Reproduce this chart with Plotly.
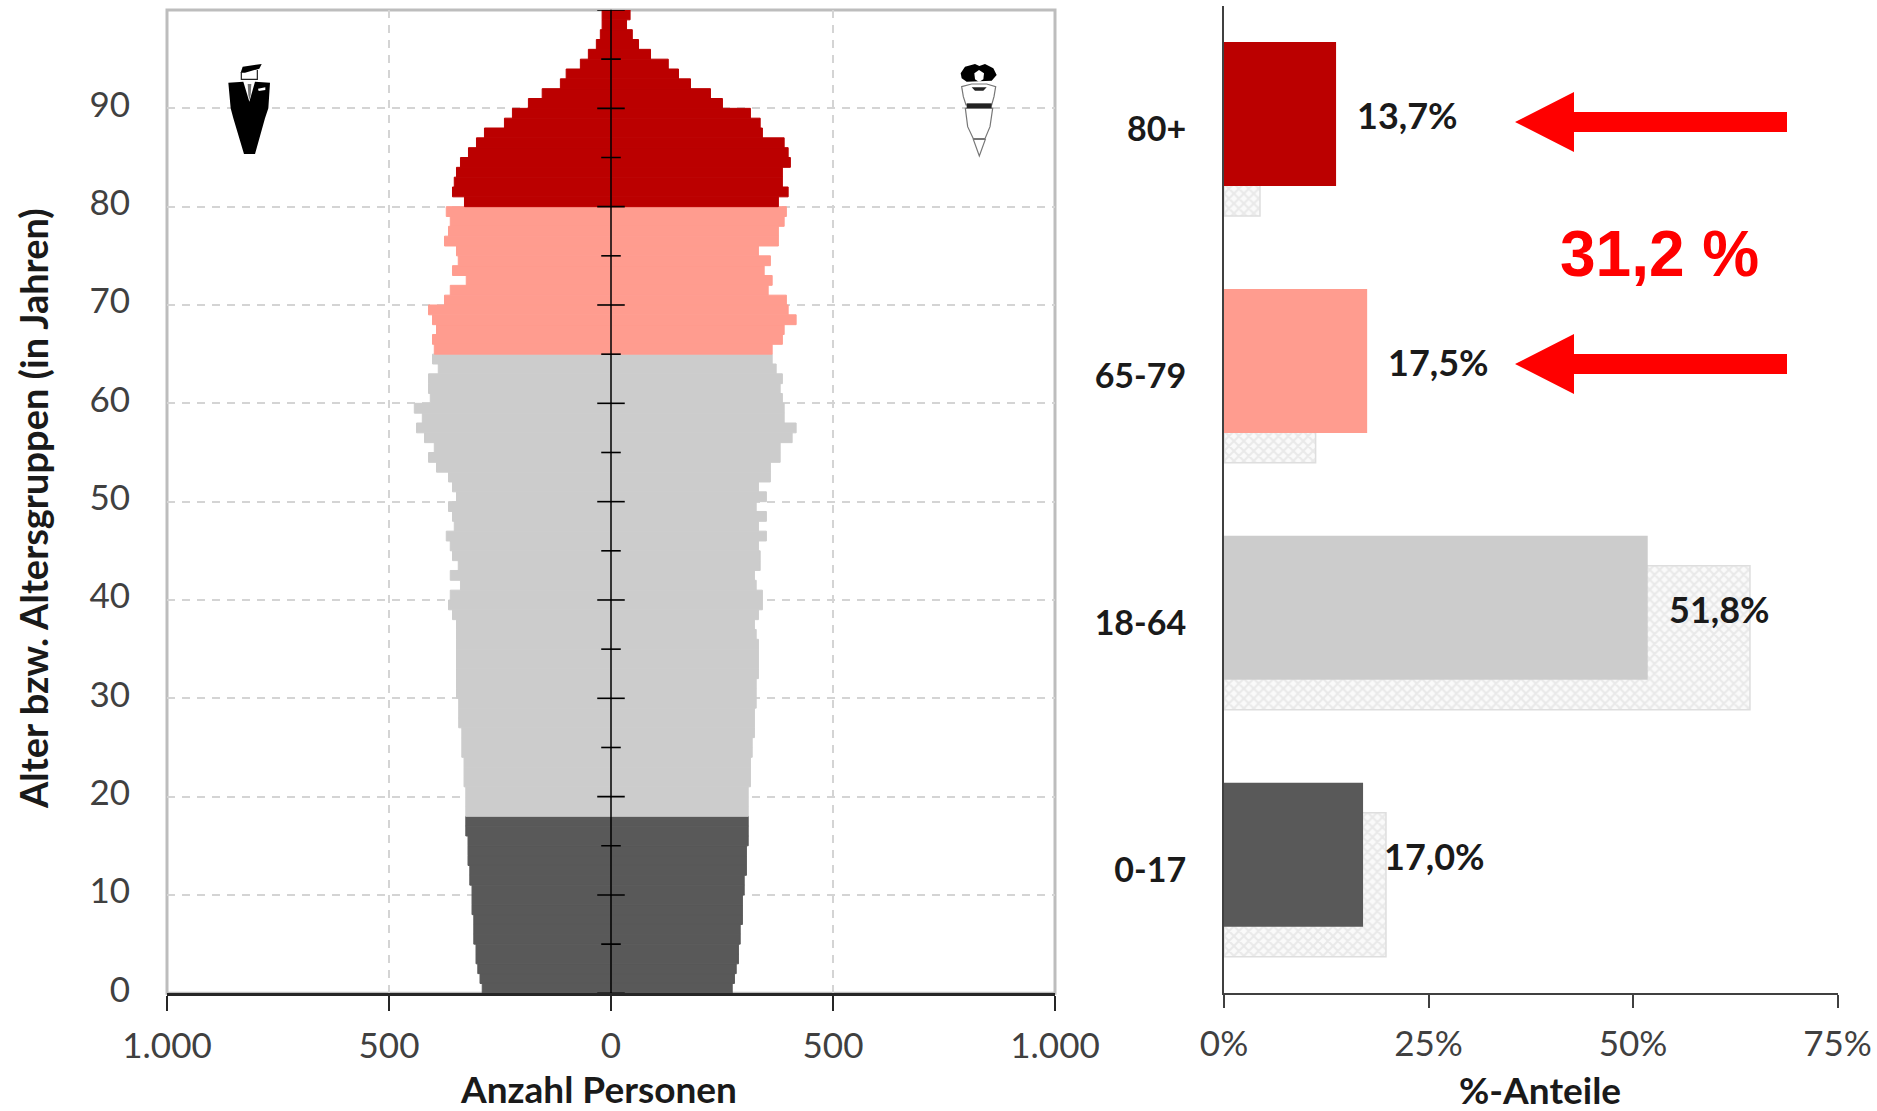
import plotly.graph_objects as go

W, H = 1877, 1111

# Single-year ages 0..99
ages = list(range(100))
men = [290, 295, 300, 304, 304, 309, 309, 309, 313, 313,
       313, 318, 318, 322, 322, 322, 327, 327, 327, 327,
       327, 331, 331, 331, 336, 336, 336, 343, 343, 343,
       348, 348, 348, 348, 348, 348, 348, 348, 357, 366,
       362, 339, 362, 344, 357, 362, 371, 353, 357, 366,
       348, 357, 366, 393, 411, 398, 420, 438, 425, 443,
       407, 411, 411, 389, 402, 398, 402, 393, 402, 411,
       375, 362, 326, 357, 344, 348, 375, 366, 362, 371,
       330, 357, 353, 348, 339, 321, 303, 285, 240, 222,
       186, 155, 114, 101, 69, 51, 33, 24, 20, 20]
women = [273, 278, 282, 287, 287, 291, 291, 296, 296, 296,
         300, 300, 305, 305, 305, 309, 309, 309, 309, 309,
         309, 314, 314, 314, 318, 318, 323, 323, 323, 327,
         327, 327, 332, 332, 332, 332, 327, 323, 332, 341,
         341, 327, 323, 336, 336, 332, 350, 332, 350, 327,
         350, 332, 359, 359, 381, 381, 408, 417, 390, 390,
         386, 381, 386, 372, 363, 363, 386, 390, 417, 399,
         395, 354, 363, 345, 359, 332, 377, 377, 390, 395,
         377, 399, 386, 386, 404, 399, 390, 341, 336, 314,
         251, 224, 179, 152, 129, 89, 62, 48, 35, 43]

groups = ["0-17", "18-64", "65-79", "80+"]
group_first_age = [0, 18, 65, 80]
group_last_age = [17, 64, 79, 99]
group_colors = ["#595959", "#cccccc", "#ff9c8f", "#bb0000"]
share_now = [17.0, 51.8, 17.5, 13.7]
share_past = [19.8, 64.3, 11.2, 4.4]

x_tickvals = [-1000, -500, 0, 500, 1000]
x_ticktext = ["1.000", "500", "0", "500", "1.000"]
age_ticks = [0, 10, 20, 30, 40, 50, 60, 70, 80, 90]
centre_major = [0, 10, 20, 30, 40, 50, 60, 70, 80, 90, 100]
centre_minor = [5, 15, 25, 35, 45, 55, 65, 75, 85, 95]
share_ticks = [0, 25, 50, 75]
share_ticktext = ["0%", "25%", "50%", "75%"]

FONT = "Lato"


def px(x):
    return x / W


def py(y):
    return 1 - y / H


def poly(points, close=True):
    d = "M" + " L".join(f"{px(x):.5f},{py(y):.5f}" for x, y in points)
    return d + (" Z" if close else "")


def paper_shape(points, fill="rgba(0,0,0,0)", color="rgba(0,0,0,0)", width=0, close=True):
    return dict(type="path", xref="paper", yref="paper", path=poly(points, close),
                fillcolor=fill, line=dict(color=color, width=width), layer="above")


fig = go.Figure()

# Pyramid
for first, last, colour in zip(group_first_age, group_last_age, group_colors):
    idx = [a for a in ages if first <= a <= last]
    ys = [a + 0.5 for a in idx]
    fig.add_trace(go.Bar(y=ys, x=[-men[a] for a in idx], orientation="h", width=1,
                         marker=dict(color=colour, line=dict(width=1, color=colour)),
                         xaxis="x", yaxis="y", showlegend=False))
    fig.add_trace(go.Bar(y=ys, x=[women[a] for a in idx], orientation="h", width=1,
                         marker=dict(color=colour, line=dict(width=1, color=colour)),
                         xaxis="x", yaxis="y", showlegend=False))

# Centre axis with crossing ticks
fig.add_trace(go.Scatter(x=[0, 0], y=[0, 100], mode="lines", line=dict(color="#000000", width=1.5),
                         xaxis="x", yaxis="y", showlegend=False, cliponaxis=False))
fig.add_trace(go.Scatter(x=[0] * len(centre_major), y=centre_major, mode="markers", marker=dict(size=1, color="#000"),
                         error_x=dict(type="constant", value=31, width=0, thickness=1.6, color="#000000"),
                         xaxis="x", yaxis="y", showlegend=False, cliponaxis=False))
fig.add_trace(go.Scatter(x=[0] * len(centre_minor), y=centre_minor, mode="markers", marker=dict(size=1, color="#000"),
                         error_x=dict(type="constant", value=22, width=0, thickness=1.6, color="#000000"),
                         xaxis="x", yaxis="y", showlegend=False, cliponaxis=False))

# Shares: past (hatched, behind) and current (solid, in front)
fig.add_trace(go.Bar(y=groups, x=share_past, orientation="h", width=0.583, offset=-0.352,
                     marker=dict(color="#ffffff", line=dict(color="#dedede", width=1.5),
                                 pattern=dict(shape="x", size=7, solidity=0.5, fgcolor="#d8d8d8", bgcolor="#fafafa")),
                     xaxis="x2", yaxis="y2", showlegend=False))
fig.add_trace(go.Bar(y=groups, x=share_now, orientation="h", width=0.583, offset=-0.2307,
                     marker=dict(color=group_colors, line=dict(width=0)),
                     xaxis="x2", yaxis="y2", showlegend=False))

annotations = []
for i, v in enumerate(share_now):
    annotations.append(dict(x=v, y=i + 0.055, xref="x2", yref="y2", xanchor="left", yanchor="middle",
                            xshift=19, showarrow=False, text=f"{v:.1f}%".replace(".", ","),
                            font=dict(family=FONT, size=36, color="#1a1a1a", weight="bold")))
common = dict(xref="paper", yref="paper", xanchor="center", yanchor="middle", showarrow=False)
annotations += [
    dict(x=px(598), y=py(1088), text="Anzahl Personen",
         font=dict(family=FONT, size=37, color="#1a1a1a", weight="bold"), **common),
    dict(x=px(1540), y=py(1089), text="%-Anteile",
         font=dict(family=FONT, size=37, color="#1a1a1a", weight="bold"), **common),
    dict(x=px(33), y=py(509), textangle=-90, text="Alter bzw. Altersgruppen (in Jahren)",
         font=dict(family=FONT, size=38, color="#1a1a1a", weight="bold"), **common),
    dict(x=px(1659), y=py(254), text="31,2 %",
         font=dict(family="Liberation Sans", size=64, color="#ff0000", weight="bold"), **common),
]

shapes = [dict(type="rect", xref="x domain", yref="y domain", x0=0, x1=1, y0=0, y1=1,
               line=dict(color="#bdbdbd", width=3), layer="below")]

# Red arrows
for cy in (122, 364):
    shapes.append(paper_shape([(1515, cy), (1574, cy - 30), (1574, cy - 10), (1787, cy - 10),
                               (1787, cy + 10), (1574, cy + 10), (1574, cy + 30)], fill="#ff0000"))


# Man icon: coordinates of the 3x crop at (200, 40)
def m(pts):
    return [(200 + x / 3, 40 + y / 3) for x, y in pts]


shapes += [
    paper_shape(m([(85, 128), (130, 125), (148, 185), (165, 125), (210, 128), (205, 205), (195, 235),
                   (165, 342), (132, 342), (100, 235), (92, 205)]), fill="#000000"),
    paper_shape(m([(122, 98), (128, 80), (185, 72), (178, 86), (135, 98)]), fill="#000000"),
    paper_shape(m([(124, 96), (124, 118), (172, 118), (172, 90)]), color="#222222", width=1.2, close=False),
    paper_shape(m([(143, 132), (154, 132), (152, 165), (148, 180), (145, 165)]), fill="#777777"),
    paper_shape(m([(174, 146), (196, 142), (196, 150), (176, 153)]), fill="#ffffff"),
]


# Woman icon: coordinates of the 3x crop at (930, 40)
def f(pts):
    return [(930 + x / 3, 40 + y / 3) for x, y in pts]


shapes += [
    paper_shape(f([(92, 100), (105, 80), (135, 72), (148, 78), (165, 72), (190, 85), (200, 105),
                   (185, 122), (110, 125), (95, 115)]), fill="#000000"),
    paper_shape(f([(133, 100), (147, 90), (162, 100), (160, 118), (147, 126), (135, 118)]), fill="#ffffff"),
    paper_shape(f([(95, 140), (125, 132), (170, 132), (197, 140), (192, 170), (185, 195), (108, 195), (100, 170)]),
                fill="#ffffff", color="#777777", width=1.2),
    paper_shape(f([(125, 142), (170, 142), (160, 152), (135, 152)]), fill="#222222"),
    paper_shape(f([(106, 205), (188, 205), (180, 260), (165, 296), (130, 296), (113, 260)]),
                fill="#ffffff", color="#777777", width=1.2),
    paper_shape(f([(130, 298), (166, 298), (148, 348)]), fill="#ffffff", color="#777777", width=1.2),
    paper_shape(f([(110, 190), (185, 190), (185, 204), (110, 204)]), fill="#222222"),
]

GRID = "#d4d4d4"
fig.update_layout(
    width=W, height=H, margin=dict(l=0, r=0, t=0, b=0, autoexpand=False), autosize=False,
    paper_bgcolor="#ffffff", plot_bgcolor="rgba(0,0,0,0)", barmode="overlay",
    font=dict(family=FONT, color="#404040"),
    annotations=annotations, shapes=shapes,
    xaxis=dict(domain=[px(167), px(1055)], range=[-1000, 1000], tickmode="array", tickvals=x_tickvals,
               ticktext=x_ticktext, ticks="outside", ticklen=15, tickwidth=1.5, tickcolor="#262626",
               showline=True, linecolor="#262626", linewidth=2.5, zeroline=False,
               showgrid=True, gridcolor=GRID, griddash="8px,7px", gridwidth=1.5, automargin=False,
               tickfont=dict(size=35, color="#404040"), ticklabelstandoff=5, anchor="y"),
    yaxis=dict(domain=[py(993.3), py(10)], range=[0, 100], tickmode="array", tickvals=age_ticks,
               ticks="", showline=False, zeroline=False, showgrid=True, gridcolor=GRID, griddash="8px,7px",
               gridwidth=1.5, tickfont=dict(size=35, color="#404040"), ticklabelstandoff=36, ticklabelshift=-4,
               anchor="x", automargin=False),
    xaxis2=dict(domain=[px(1224), px(1837.5)], range=[0, 75], tickmode="array", tickvals=share_ticks,
                ticktext=share_ticktext, ticks="outside", ticklen=13, tickwidth=1.5, tickcolor="#404040",
                showline=True, linecolor="#404040", linewidth=2, zeroline=False, showgrid=False, automargin=False,
                tickfont=dict(size=35, color="#404040"), ticklabelstandoff=6, anchor="y2"),
    yaxis2=dict(domain=[py(993.3), py(5.5)], range=[-0.5, 3.5], type="category", categoryorder="array",
                categoryarray=groups, ticks="", showline=True, linecolor="#404040", linewidth=2,
                showgrid=False, zeroline=False, tickfont=dict(size=34, color="#1a1a1a", weight="bold"),
                ticklabelstandoff=29, anchor="x2", automargin=False),
)

fig.write_html("out.html", post_script="document.body.style.margin='0';", config={"displayModeBar": False})
